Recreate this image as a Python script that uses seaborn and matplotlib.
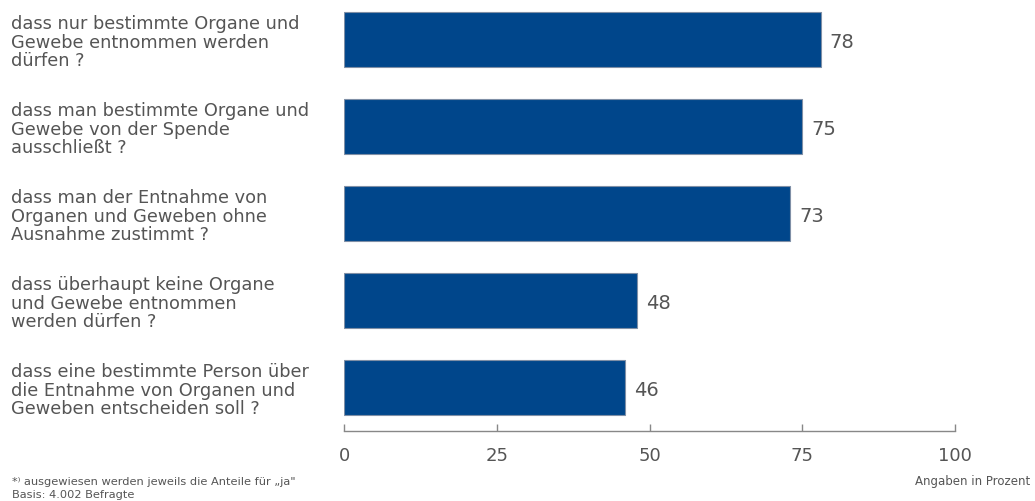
import numpy as np
import pandas as pd
import matplotlib
matplotlib.use("Agg")
import matplotlib.pyplot as plt
import seaborn as sns

categories = [
    "dass nur bestimmte Organe und\nGewebe entnommen werden\ndürfen ?",
    "dass man bestimmte Organe und\nGewebe von der Spende\nausschließt ?",
    "dass man der Entnahme von\nOrganen und Geweben ohne\nAusnahme zustimmt ?",
    "dass überhaupt keine Organe\nund Gewebe entnommen\nwerden dürfen ?",
    "dass eine bestimmte Person über\ndie Entnahme von Organen und\nGeweben entscheiden soll ?",
]
values = [78, 75, 73, 48, 46]
x_ticks = [0, 25, 50, 75, 100]

df = pd.DataFrame({"Frage": categories, "Anteil": values})

sns.set_style("white")
plt.rcParams["font.family"] = "sans-serif"
plt.rcParams["font.sans-serif"] = ["DejaVu Sans"]
grey = "#555555"

fig = plt.figure(figsize=(10.35, 5.02), dpi=100)
ax = fig.add_axes([344 / 1035, 1 - 432 / 502, (955 - 344) / 1035, 432 / 502])

sns.barplot(data=df, x="Anteil", y="Frage", color="#00468B", saturation=1,
            width=0.63, edgecolor="#7f8fa6", linewidth=0.8, ax=ax)

for i, v in enumerate(values):
    ax.text(v + 1.5, i + 0.02, str(v), va="center", ha="left", fontsize=14, color=grey)

ax.set_xlim(0, 100)
ax.set_ylim(4.5, -0.466)
ax.set_xticks(x_ticks)
ax.set_xlabel("")
ax.set_ylabel("")

for s in ["top", "right", "left"]:
    ax.spines[s].set_visible(False)
ax.spines["bottom"].set_color("#888888")
ax.spines["bottom"].set_linewidth(1)

ax.tick_params(axis="x", bottom=True, direction="in", length=5, width=1,
               color="#888888", labelsize=13, labelcolor=grey, pad=11)
ax.tick_params(axis="y", left=False, length=0, pad=240, labelsize=12.8, labelcolor=grey)
for lbl in ax.get_yticklabels():
    lbl.set_ha("left")
    lbl.set_linespacing(1.04)

fig.text(12 / 1035, 1 - 482 / 502, "*⁾ ausgewiesen werden jeweils die Anteile für „ja\"",
         fontsize=8.2, color=grey, va="center", ha="left")
fig.text(12 / 1035, 1 - 495 / 502, "Basis: 4.002 Befragte",
         fontsize=8.2, color=grey, va="center", ha="left")
fig.text(1030 / 1035, 1 - 482 / 502, "Angaben in Prozent",
         fontsize=8.5, color=grey, va="center", ha="right")

fig.savefig("out.png", dpi=100)
